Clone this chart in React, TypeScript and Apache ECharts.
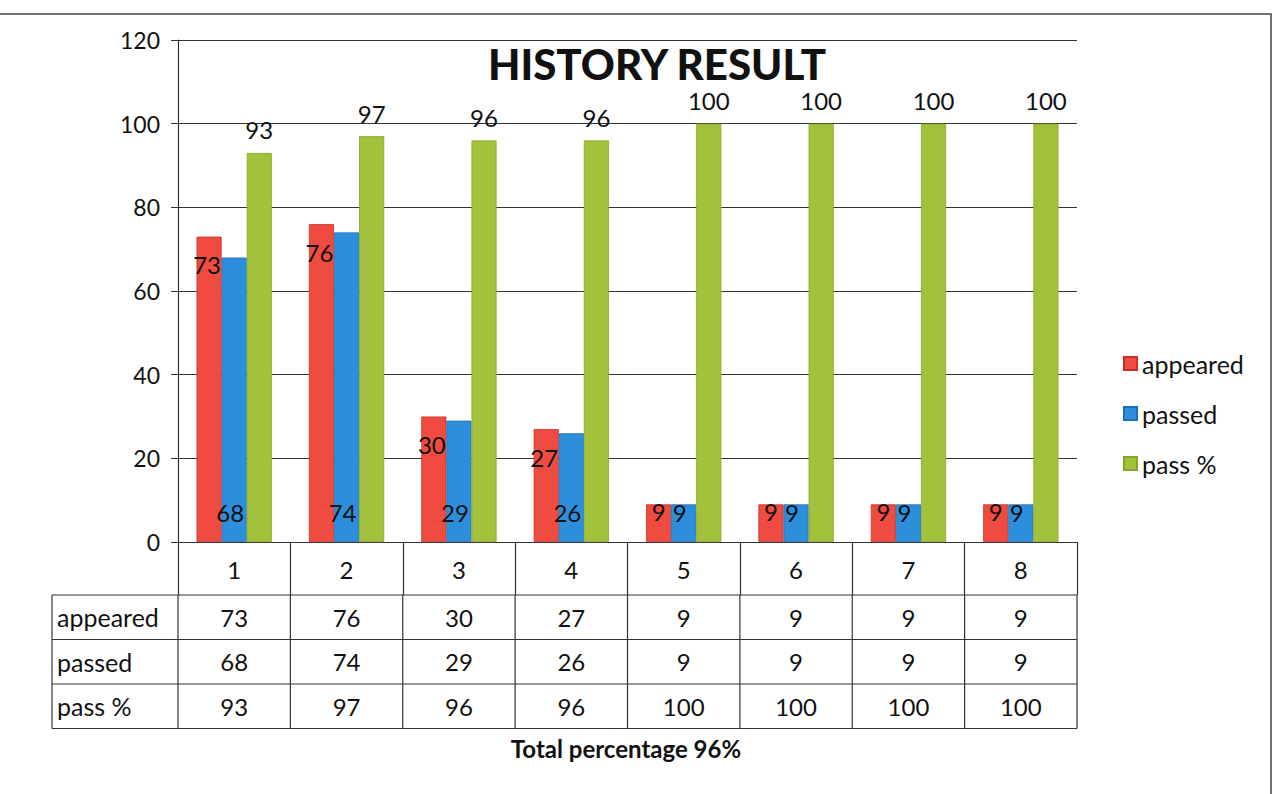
import React, { useEffect, useRef } from "react";
import * as echarts from "echarts";

const categories = ["1", "2", "3", "4", "5", "6", "7", "8"];
const appeared = [73, 76, 30, 27, 9, 9, 9, 9];
const passed = [68, 74, 29, 26, 9, 9, 9, 9];
const passPct = [93, 97, 96, 96, 100, 100, 100, 100];
const seriesNames = ["appeared", "passed", "pass %"];
const yTicks = { min: 0, max: 120, interval: 20 };
const titleText = "HISTORY RESULT";
const footerText = "Total percentage 96%";

const W = 1276;
const H = 794;
const FONT = "Lato, 'Open Sans', sans-serif";

export default function App() {
  const ref = useRef<HTMLDivElement>(null);
  useEffect(() => {
    if (!ref.current) return;
    const chart = echarts.init(ref.current, null, { renderer: "svg" });

    const gridLeft = 178;
    const gridRight = 1077;
    const gridTop = 40;
    const gridBottom = 542;
    const headerBottom = 595;
    const rowH = 44.5;
    const tableLeft = 52;
    const catW = (gridRight - gridLeft) / categories.length;
    const rows = [appeared, passed, passPct];
    const lineStyle = { stroke: "#333", lineWidth: 1.2 };

    const graphics: any[] = [];
    graphics.push({
      type: "rect",
      shape: { x: -5, y: 14, width: 1276, height: 790 },
      style: { fill: "none", stroke: "#444", lineWidth: 1.5 },
      silent: true,
    });
    const tableBottom = headerBottom + rowH * rows.length;
    for (let r = 0; r <= rows.length; r++) {
      const y = headerBottom + rowH * r;
      graphics.push({ type: "line", shape: { x1: tableLeft, y1: y, x2: gridRight, y2: y }, style: lineStyle });
    }
    graphics.push({ type: "line", shape: { x1: tableLeft, y1: headerBottom, x2: tableLeft, y2: tableBottom }, style: lineStyle });
    for (let c = 0; c <= categories.length; c++) {
      const x = gridLeft + catW * c;
      graphics.push({ type: "line", shape: { x1: x, y1: headerBottom, x2: x, y2: tableBottom }, style: lineStyle });
    }
    rows.forEach((row, r) => {
      const cy = headerBottom + rowH * r + rowH / 2;
      graphics.push({
        type: "text",
        x: tableLeft + 5,
        y: cy,
        style: { text: seriesNames[r], font: `25px ${FONT}`, fill: "#111", verticalAlign: "middle", align: "left" },
      });
      row.forEach((v, c) => {
        graphics.push({
          type: "text",
          x: gridLeft + catW * c + catW / 2,
          y: cy,
          style: { text: String(v), font: `24px ${FONT}`, fill: "#111", verticalAlign: "middle", align: "center" },
        });
      });
    });
    graphics.push({
      type: "text",
      x: 626,
      y: 748,
      style: { text: footerText, font: `bold 24px ${FONT}`, fill: "#111", align: "center", verticalAlign: "middle" },
    });

    const lbl = { color: "#111", fontSize: 24, fontFamily: FONT };
    const appearedData = appeared.map((v) =>
      v < 15 ? { value: v, label: { position: "insideBottom", offset: [0, -14] } } : v
    );

    chart.setOption({
      animation: false,
      backgroundColor: "#fff",
      title: {
        text: titleText,
        left: 652,
        top: 38,
        textAlign: "center",
        textStyle: { fontFamily: FONT, fontWeight: 900, fontSize: 42, color: "#111" },
      },
      legend: {
        orient: "vertical",
        left: 1118,
        top: 346,
        itemWidth: 13,
        itemHeight: 13,
        itemGap: 25,
        icon: "rect",
        textStyle: { fontFamily: FONT, fontSize: 25, color: "#111" },
        data: seriesNames,
      },
      grid: { left: gridLeft, right: W - gridRight, top: gridTop, bottom: H - gridBottom, containLabel: false },
      xAxis: {
        type: "category",
        data: categories,
        axisLine: { show: true, lineStyle: { color: "#333", width: 1.2 } },
        axisTick: { show: true, length: headerBottom - gridBottom, lineStyle: { color: "#333", width: 1.2 } },
        axisLabel: { fontFamily: FONT, fontSize: 24, color: "#111", margin: 15 },
      },
      yAxis: {
        type: "value",
        min: yTicks.min,
        max: yTicks.max,
        interval: yTicks.interval,
        axisLine: { show: true, lineStyle: { color: "#333", width: 1.2 } },
        axisTick: { show: true, length: 7, lineStyle: { color: "#333" } },
        axisLabel: { fontFamily: FONT, fontSize: 23, color: "#111", margin: 18 },
        splitLine: { lineStyle: { color: "#333", width: 1.2 } },
      },
      series: [
        {
          name: seriesNames[0],
          type: "bar",
          data: appearedData,
          barGap: "0%",
          barCategoryGap: "33%",
          itemStyle: { color: "#ef4b40", borderColor: "#c8302a", borderWidth: 0.8 },
          label: { show: true, position: "insideTop", offset: [-2, 11], ...lbl },
        },
        {
          name: seriesNames[1],
          type: "bar",
          data: passed,
          itemStyle: { color: "#2d8fdc", borderColor: "#1c6fb8", borderWidth: 0.8 },
          label: { show: true, position: "insideBottom", offset: [-4, -13], ...lbl },
        },
        {
          name: seriesNames[2],
          type: "bar",
          data: passPct,
          itemStyle: { color: "#a3c23c", borderColor: "#86a52a", borderWidth: 0.8 },
          label: { show: true, position: "top", distance: 11, ...lbl },
        },
      ],
      graphic: graphics,
    });
    return () => chart.dispose();
  }, []);
  return <div ref={ref} style={{ position: "absolute", left: 0, top: 0, width: W, height: H }} />;
}
